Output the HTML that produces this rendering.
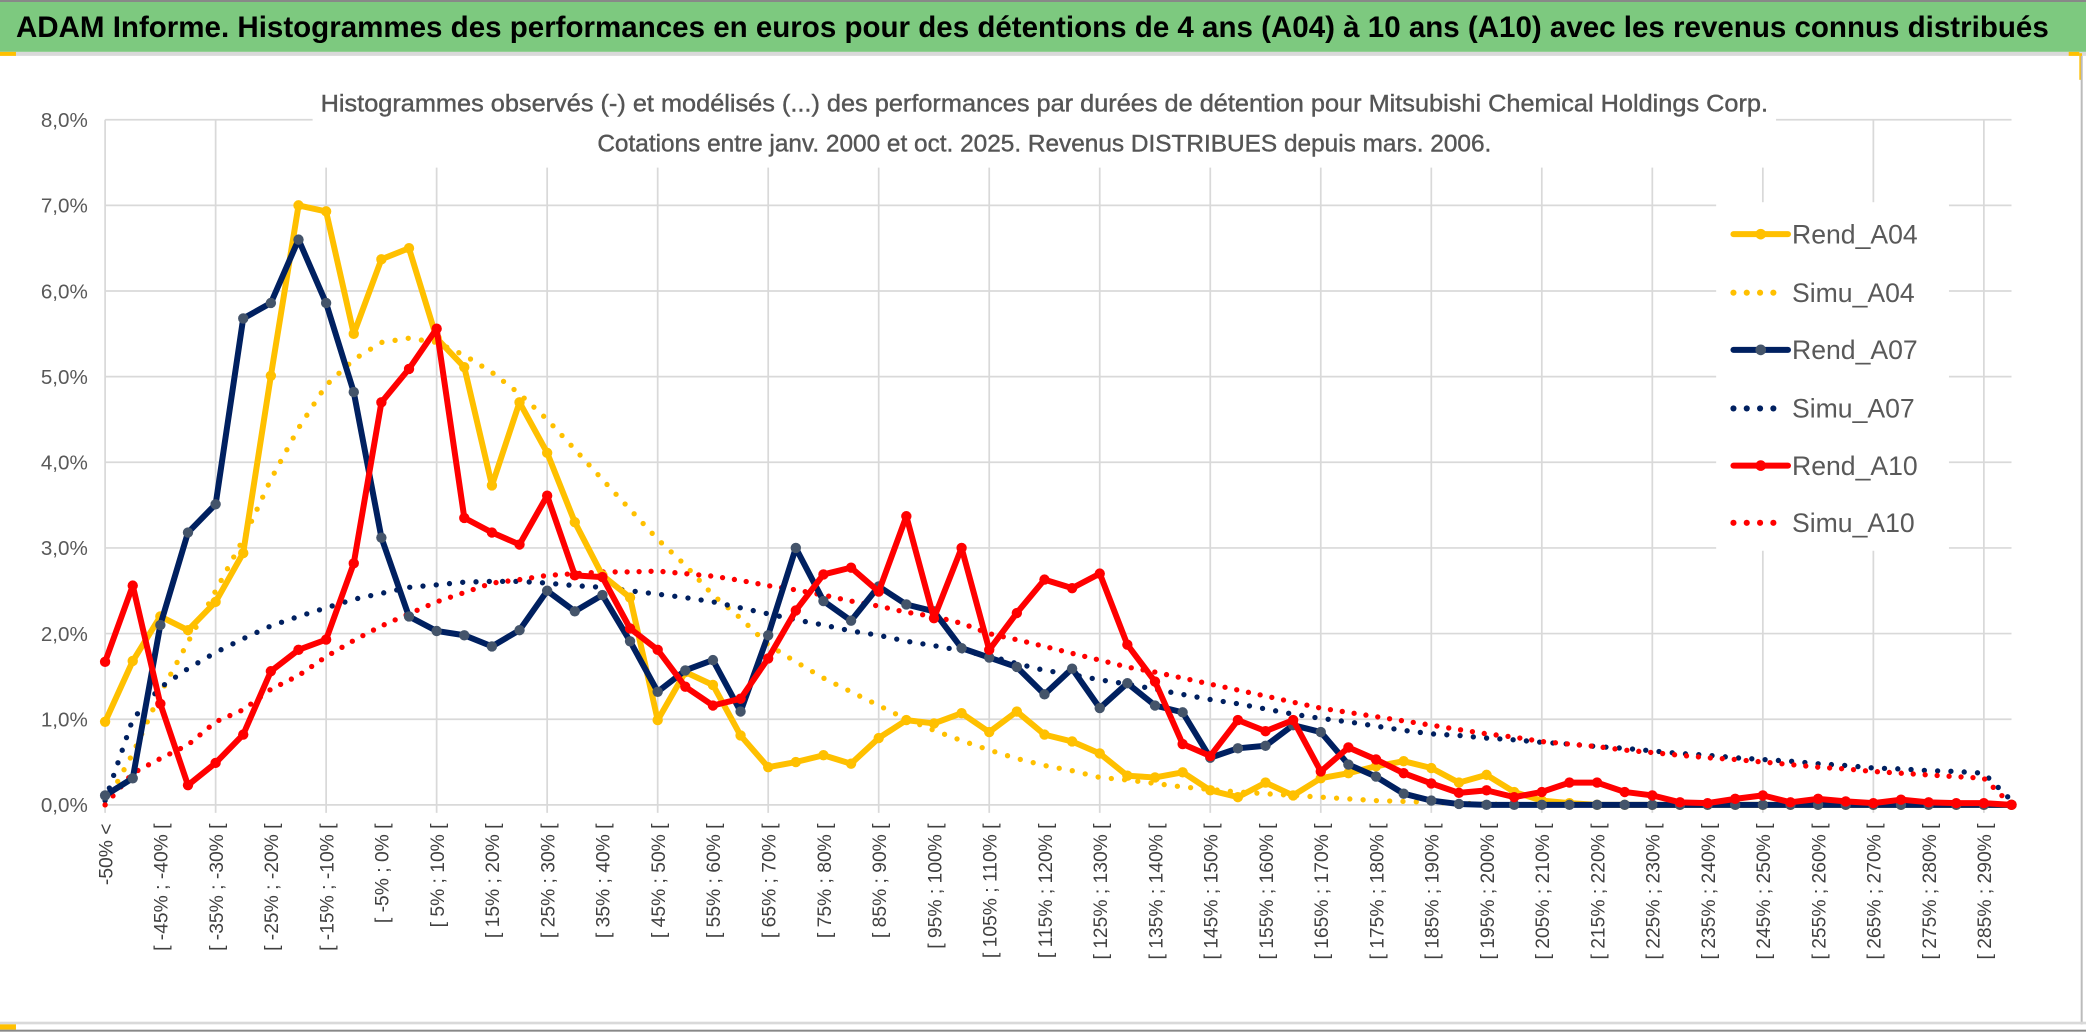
<!DOCTYPE html>
<html><head><meta charset="utf-8"><style>
html,body{margin:0;padding:0;background:#fff;}
svg{display:block;}
text{font-family:"Liberation Sans",sans-serif;}
</style></head><body>
<svg id="chart" width="2086" height="1033" viewBox="0 0 1568 776.5" preserveAspectRatio="none" xmlns="http://www.w3.org/2000/svg">
<rect x="0" y="0" width="1568" height="776.5" fill="#fff"/>
<rect x="0" y="1" width="1568" height="38" fill="#7DC97F"/>
<rect x="0" y="0" width="1568" height="1.5" fill="#888"/>
<text x="12" y="28" font-size="22" font-weight="bold" fill="#000" textLength="1528" lengthAdjust="spacingAndGlyphs">ADAM Informe. Histogrammes des performances en euros pour des détentions de 4 ans (A04) à 10 ans (A10) avec les revenus connus distribués</text>
<rect x="0" y="39" width="1568" height="3" fill="#d9d9d9"/>
<rect x="0" y="39" width="12" height="3" fill="#FFC000"/>
<rect x="1555" y="39" width="8" height="3" fill="#FFC000"/>
<rect x="1563" y="40" width="2" height="20" fill="#FFC000"/>
<rect x="1564" y="42" width="1.5" height="728" fill="#bbb"/>
<rect x="0" y="768" width="1568" height="2" fill="#d9d9d9"/>
<rect x="0" y="770" width="12" height="4" fill="#FFC000"/>
<rect x="0" y="774" width="1568" height="1.5" fill="#888"/>
<g id="grid"></g>
<g id="axes"></g>
<rect x="235" y="60" width="1100" height="66" fill="#fff"/>
<text x="785" y="84" font-size="18" fill="#555" stroke="#555" stroke-width="0.3" text-anchor="middle" textLength="1088" lengthAdjust="spacingAndGlyphs">Histogrammes observés (-) et modélisés (...) des performances par durées de détention pour Mitsubishi Chemical Holdings Corp.</text>
<text x="785" y="114" font-size="18" fill="#555" stroke="#555" stroke-width="0.3" text-anchor="middle" textLength="672" lengthAdjust="spacingAndGlyphs">Cotations entre janv. 2000 et oct. 2025. Revenus DISTRIBUES depuis mars. 2006.</text>
<g id="series"></g>
<g id="legend"></g>
</svg>
<script>
const categories = ["-50% <"];
for (let b = -50; b < 295; b += 5) categories.push("[ " + b + "% ; " + (b + 5) + "% [");
const yTicks = [0,1,2,3,4,5,6,7,8];
const yTickLabels = ["0,0%","1,0%","2,0%","3,0%","4,0%","5,0%","6,0%","7,0%","8,0%"];
const rendA04 = [0.97,1.68,2.2,2.04,2.37,2.94,5.01,7.0,6.93,5.5,6.37,6.5,5.45,5.11,3.73,4.7,4.11,3.3,2.68,2.42,0.99,1.55,1.4,0.81,0.44,0.5,0.58,0.48,0.78,0.99,0.95,1.07,0.85,1.09,0.82,0.74,0.6,0.34,0.32,0.38,0.17,0.09,0.26,0.11,0.31,0.37,0.45,0.51,0.43,0.26,0.35,0.15,0.05,0.02,0,0,0,0,0,0,0,0,0,0,0,0,0,0,0,0];
const simuA04 = [0.0,0.6,1.3,1.9,2.5,3.1,3.8,4.4,4.9,5.2,5.4,5.45,5.4,5.25,5.05,4.8,4.5,4.15,3.8,3.45,3.1,2.8,2.45,2.18,1.87,1.67,1.48,1.32,1.16,1.0,0.87,0.75,0.64,0.54,0.46,0.4,0.32,0.29,0.25,0.21,0.18,0.15,0.13,0.11,0.09,0.07,0.05,0.04,0.03,0.02,0.01,0,0,0,0,0,0,0,0,0,0,0,0,0,0,0,0,0,0,0];
const rendA07 = [0.11,0.31,2.1,3.18,3.51,5.68,5.86,6.6,5.86,4.82,3.12,2.2,2.03,1.98,1.85,2.04,2.5,2.26,2.45,1.91,1.32,1.57,1.69,1.09,1.98,3.0,2.38,2.15,2.55,2.34,2.26,1.83,1.72,1.61,1.29,1.59,1.13,1.42,1.16,1.08,0.55,0.66,0.69,0.93,0.85,0.47,0.33,0.13,0.05,0.01,0,0,0,0,0,0,0,0,0,0,0,0,0,0,0,0,0,0,0,0];
const simuA07 = [0.05,1.0,1.37,1.59,1.78,1.94,2.09,2.2,2.3,2.4,2.47,2.54,2.57,2.6,2.61,2.61,2.59,2.56,2.54,2.5,2.46,2.42,2.37,2.3,2.23,2.16,2.1,2.03,1.98,1.91,1.86,1.8,1.74,1.65,1.57,1.52,1.46,1.41,1.35,1.29,1.23,1.18,1.12,1.06,1.01,0.97,0.92,0.87,0.83,0.81,0.78,0.76,0.73,0.71,0.68,0.66,0.63,0.6,0.58,0.55,0.53,0.51,0.48,0.46,0.43,0.42,0.4,0.39,0.37,0.05];
const rendA10 = [1.67,2.56,1.18,0.23,0.49,0.82,1.56,1.81,1.93,2.82,4.7,5.09,5.56,3.35,3.18,3.04,3.61,2.68,2.66,2.06,1.81,1.38,1.16,1.24,1.71,2.27,2.69,2.77,2.49,3.37,2.18,3.0,1.81,2.24,2.63,2.53,2.7,1.87,1.44,0.71,0.57,0.99,0.86,0.99,0.39,0.67,0.53,0.37,0.25,0.14,0.17,0.09,0.15,0.26,0.26,0.15,0.11,0.03,0.02,0.07,0.11,0.03,0.07,0.04,0.02,0.06,0.03,0.02,0.02,0];
const simuA10 = [0.0,0.37,0.54,0.7,0.97,1.11,1.35,1.51,1.73,1.92,2.09,2.23,2.37,2.48,2.59,2.63,2.68,2.7,2.72,2.72,2.73,2.7,2.67,2.62,2.56,2.51,2.45,2.38,2.32,2.25,2.2,2.12,2.0,1.93,1.85,1.77,1.69,1.61,1.55,1.48,1.41,1.34,1.27,1.2,1.13,1.08,1.03,0.98,0.93,0.88,0.83,0.79,0.74,0.71,0.68,0.64,0.61,0.58,0.55,0.53,0.5,0.47,0.44,0.42,0.39,0.37,0.35,0.33,0.31,0.0];

const NS = "http://www.w3.org/2000/svg";
const X0 = 79, X1 = 1512, Y0 = 605, YTOP = 90, YMAX = 8;
function xPos(i){ return X0 + i * (X1 - X0) / (categories.length - 1); }
function yPos(v){ return Y0 - v * (Y0 - YTOP) / YMAX; }
function mk(tag, attrs, parent){ const e = document.createElementNS(NS, tag); for (const k in attrs) e.setAttribute(k, attrs[k]); parent.appendChild(e); return e; }

const grid = document.getElementById("grid");
yTicks.forEach((t, k) => {
  const l = mk("line", {x1: X0, x2: X1, y1: yPos(t), y2: yPos(t), stroke: "#d9d9d9", "stroke-width": 1.3}, grid);
  
  
  const tx = mk("text", {x: 66, y: yPos(t) + 5.5, "font-size": 15.5, fill: "#595959", "text-anchor": "end"}, grid);
  tx.textContent = yTickLabels[k];
  
  
});
for (let i = 0; i < categories.length; i += 4) {
  const l = mk("line", {x1: xPos(i), x2: xPos(i), y1: YTOP, y2: Y0 + 6, stroke: "#d9d9d9", "stroke-width": 1.3}, grid);
  
  
}
const axes = document.getElementById("axes");
for (let i = 0; i < categories.length; i += 2) {
  const x = xPos(i) + 5.5, y = 619;
  const tx = mk("text", {x: x, y: y, "font-size": 14.5, fill: "#404040", "text-anchor": "end", transform: "rotate(-90 " + x + " " + y + ")"}, axes);
  tx.textContent = categories[i];
  
  
}

const series = document.getElementById("series");
function pts(arr){ return arr.map((v, i) => xPos(i).toFixed(1) + "," + yPos(v).toFixed(1)).join(" "); }
function dotted(arr, color, name, gap){
  const p = mk("polyline", {points: pts(arr), fill: "none", stroke: color, "stroke-width": 4, "stroke-linecap": "round", "stroke-dasharray": "0 " + gap}, series);
  
  
}
function solid(arr, color, mcolor, name){
  const g = mk("g", {}, series);
  
  
  mk("polyline", {points: pts(arr), fill: "none", stroke: color, "stroke-width": 4.5, "stroke-linejoin": "round"}, g);
  arr.forEach((v, i) => {
    const c = mk("circle", {cx: xPos(i), cy: yPos(v), r: 3.9, fill: mcolor}, g);
    
    
  });
}
dotted(simuA04, "#FFC000", "simu-a04-line", 10);
dotted(simuA07, "#002060", "simu-a07-line", 10);
dotted(simuA10, "#FF0000", "simu-a10-line", 9);
solid(rendA04, "#FFC000", "#FFC000", "rend-a04-line");
solid(rendA07, "#002060", "#44546A", "rend-a07-line");
solid(rendA10, "#FF0000", "#FF0000", "rend-a10-line");

const legend = document.getElementById("legend");
mk("rect", {x: 1290, y: 152, width: 175, height: 262, fill: "#fff"}, legend);
const legNames = ["Rend_A04","Simu_A04","Rend_A07","Simu_A07","Rend_A10","Simu_A10"];
const legColors = ["#FFC000","#FFC000","#002060","#002060","#FF0000","#FF0000"];
const legY = [176,220,263,307,350,393];
legNames.forEach((n, k) => {
  const g = mk("g", {}, legend);
  
  
  const y = legY[k];
  if (k % 2 === 0) {
    mk("line", {x1: 1303, x2: 1344, y1: y, y2: y, stroke: legColors[k], "stroke-width": 4.5, "stroke-linecap": "round"}, g);
    mk("circle", {cx: 1323.5, cy: y, r: 4, fill: k === 2 ? "#44546A" : legColors[k]}, g);
  } else {
    for (let d = 0; d < 4; d++) mk("circle", {cx: 1303 + d * 10, cy: y, r: 2.3, fill: legColors[k]}, g);
  }
  const t = mk("text", {x: 1347, y: y + 7, "font-size": 20, fill: "#595959"}, g);
  t.textContent = n;
});
</script>
</body></html>
